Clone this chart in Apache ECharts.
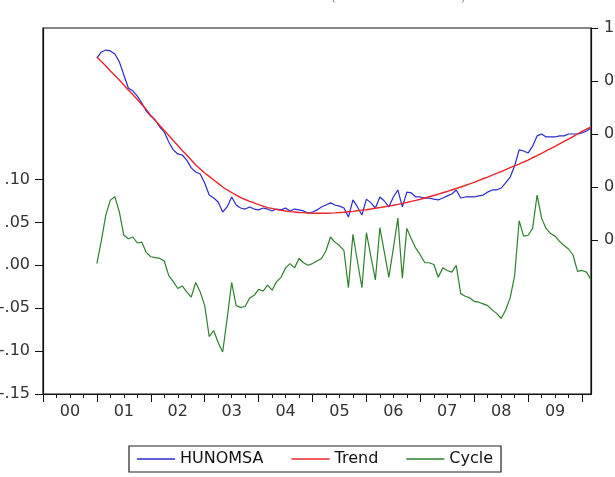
<!DOCTYPE html>
<html>
<head>
<meta charset="utf-8">
<script src="https://cdn.jsdelivr.net/npm/echarts@6/dist/echarts.min.js"></script>
<style>
  html, body { margin: 0; padding: 0; background: #fff; }
  #chart { width: 615px; height: 477px; }
</style>
</head>
<body>
<div id="chart"></div>
<script>
// ---- data (monthly, 2001M01 .. 2010M03) ----
const firstYear = 2001;
const firstMonth = 1;

const hunomsa = [
  0.858,0.887,0.896,0.892,0.877,0.840,0.778,0.717,0.703,0.679,0.646,0.608,
  0.585,0.566,0.533,0.509,0.462,0.425,0.406,0.401,0.377,0.340,0.321,0.311,
  0.269,0.212,0.198,0.179,0.132,0.156,0.203,0.165,0.151,0.146,0.156,0.146,
  0.142,0.151,0.146,0.137,0.146,0.142,0.151,0.137,0.146,0.142,0.137,0.127,
  0.132,0.142,0.156,0.165,0.175,0.165,0.160,0.151,0.108,0.189,0.156,0.118,
  0.193,0.175,0.151,0.203,0.184,0.156,0.203,0.236,0.156,0.226,0.222,0.203,
  0.203,0.198,0.198,0.193,0.189,0.198,0.208,0.217,0.236,0.198,0.203,0.203,
  0.203,0.208,0.212,0.226,0.236,0.236,0.245,0.269,0.297,0.349,0.425,0.420,
  0.410,0.443,0.491,0.500,0.486,0.486,0.486,0.491,0.491,0.500,0.500,0.500,
  0.505,0.514,0.528
];

const trend = [
  0.863,0.842,0.821,0.797,0.776,0.755,0.731,0.708,0.686,0.663,0.639,0.616,
  0.587,0.564,0.540,0.517,0.493,0.469,0.446,0.422,0.401,0.377,0.354,0.335,
  0.316,0.300,0.283,0.267,0.250,0.236,0.224,0.212,0.200,0.191,0.182,0.175,
  0.167,0.160,0.153,0.149,0.144,0.140,0.137,0.134,0.132,0.130,0.129,0.127,
  0.126,0.126,0.126,0.126,0.127,0.128,0.130,0.131,0.133,0.135,0.138,0.141,
  0.143,0.146,0.150,0.153,0.157,0.160,0.164,0.168,0.173,0.177,0.182,0.187,
  0.192,0.198,0.204,0.210,0.216,0.223,0.229,0.236,0.243,0.250,0.257,0.265,
  0.272,0.281,0.289,0.297,0.306,0.314,0.323,0.332,0.341,0.350,0.358,0.368,
  0.377,0.388,0.398,0.409,0.420,0.431,0.442,0.453,0.465,0.476,0.488,0.500,
  0.512,0.523,0.533
];

const cycle = [
  0.002,0.029,0.059,0.076,0.080,0.062,0.035,0.031,0.033,0.026,0.027,0.015,
  0.010,0.009,0.008,0.005,-0.012,-0.019,-0.027,-0.024,-0.031,-0.037,-0.020,-0.031,
  -0.047,-0.083,-0.076,-0.090,-0.101,-0.062,-0.020,-0.047,-0.049,-0.048,-0.038,-0.035,
  -0.028,-0.030,-0.023,-0.029,-0.019,-0.014,-0.003,0.002,-0.003,0.008,0.003,0.000,
  0.002,0.005,0.008,0.017,0.033,0.027,0.023,0.017,-0.026,0.036,0.005,-0.026,
  0.038,0.010,-0.017,0.044,0.015,-0.014,0.020,0.055,-0.015,0.043,0.031,0.020,
  0.012,0.003,0.003,0.001,-0.014,-0.003,-0.006,-0.008,0.000,-0.033,-0.036,-0.038,
  -0.042,-0.043,-0.045,-0.047,-0.052,-0.056,-0.062,-0.052,-0.038,-0.012,0.052,0.034,
  0.035,0.043,0.082,0.055,0.043,0.037,0.034,0.028,0.023,0.019,0.012,-0.007,
  -0.006,-0.008,-0.017
];

const leftTicks = [-0.15, -0.10, -0.05, 0.00, 0.05, 0.10];
const rightTicks = [0.00, 0.25, 0.50, 0.75, 1.00];
const yearLabels = ['00','01','02','03','04','05','06','07','08','09'];
const seriesNames = ['HUNOMSA', 'Trend', 'Cycle'];

// ---- build ----
const xMin = 2000;
const xMax = 2010 + 2 / 12;
function timeOf(i) { return firstYear + (firstMonth - 1 + i) / 12; }
const toPairs = arr => arr.map((v, i) => [timeOf(i), v]);

const quarterTicks = [];
for (let q = 0; q <= 40; q++) quarterTicks.push(xMin + q * 0.25);
const yearTicks = [];
for (let y = 0; y <= 10; y++) yearTicks.push(xMin + y);
const labelPos = yearLabels.map((s, i) => xMin + i + 0.5);

const FONT = "'DejaVu Sans', 'Liberation Sans', Arial, sans-serif";
const fmtLeft = v => {
  let s = (Math.round(v * 100) / 100).toFixed(2);
  return s.replace('0.', '.');
};

const chart = echarts.init(document.getElementById('chart'), null, { renderer: 'canvas' });
chart.setOption({
  animation: false,
  backgroundColor: '#ffffff',
  title: {
    text: 'Hodrick-Prescott Filter (lambda=14400)',
    left: 'center',
    top: -17,
    textStyle: { fontFamily: FONT, fontSize: 16, fontWeight: 'normal', color: '#999' }
  },
  grid: {
    left: 43, top: 28, width: 548, height: 366,
    outerBoundsMode: 'none', containLabel: false,
    show: true, borderColor: '#111', borderWidth: 1.2, backgroundColor: 'transparent'
  },
  legend: {
    data: seriesNames,
    left: 129, top: 446,
    orient: 'horizontal',
    icon: 'rect',
    borderColor: '#222', borderWidth: 1.2,
    padding: [5, 8, 5, 8],
    itemWidth: 38, itemHeight: 1.5, itemGap: 28,
    textStyle: { fontFamily: FONT, fontSize: 16, color: '#111' }
  },
  xAxis: [
    {
      type: 'value', min: xMin, max: xMax, position: 'bottom',
      axisLine: { show: true, onZero: false, lineStyle: { color: '#111', width: 1.2 } },
      axisTick: { show: true, inside: false, length: 4, customValues: quarterTicks, lineStyle: { color: '#111' } },
      axisLabel: {
        show: true, margin: 10, customValues: labelPos,
        formatter: v => yearLabels[Math.floor(v) - xMin] || '',
        fontFamily: FONT, fontSize: 16, color: '#333'
      },
      splitLine: { show: false }
    },
    {
      type: 'value', min: xMin, max: xMax, position: 'bottom',
      axisLine: { show: false, onZero: false },
      axisTick: { show: true, inside: false, length: 8, customValues: yearTicks, lineStyle: { color: '#111' } },
      axisLabel: { show: false },
      splitLine: { show: false }
    }
  ],
  yAxis: [
    {
      type: 'value', min: -0.15, max: 0.2766, position: 'left',
      axisLine: { show: true, onZero: false, lineStyle: { color: '#111', width: 1.2 } },
      axisTick: { show: true, inside: false, length: 8, customValues: leftTicks, lineStyle: { color: '#111' } },
      axisLabel: {
        show: true, margin: 13, customValues: leftTicks, formatter: fmtLeft,
        fontFamily: FONT, fontSize: 16, color: '#333'
      },
      splitLine: { show: false }
    },
    {
      type: 'value', min: -0.7264, max: 1.0, position: 'right',
      axisLine: { show: true, onZero: false, lineStyle: { color: '#111', width: 1.2 } },
      axisTick: { show: true, inside: false, length: 7, customValues: rightTicks, lineStyle: { color: '#111' } },
      axisLabel: {
        show: true, margin: 13, customValues: rightTicks, formatter: v => v.toFixed(2),
        fontFamily: FONT, fontSize: 16, color: '#333'
      },
      splitLine: { show: false }
    }
  ],
  series: [
    {
      name: seriesNames[0], type: 'line', xAxisIndex: 0, yAxisIndex: 1,
      data: toPairs(hunomsa), symbol: 'none',
      lineStyle: { color: '#2a2ad0', width: 1.2 }, itemStyle: { color: '#2a2ad0' }, z: 3
    },
    {
      name: seriesNames[1], type: 'line', xAxisIndex: 0, yAxisIndex: 1,
      data: toPairs(trend), symbol: 'none',
      lineStyle: { color: '#e8262b', width: 1.4 }, itemStyle: { color: '#e8262b' }, z: 4
    },
    {
      name: seriesNames[2], type: 'line', xAxisIndex: 0, yAxisIndex: 0,
      data: toPairs(cycle), symbol: 'none',
      lineStyle: { color: '#2f7f2f', width: 1.2 }, itemStyle: { color: '#2f7f2f' }, z: 3
    }
  ]
});
</script>
</body>
</html>
